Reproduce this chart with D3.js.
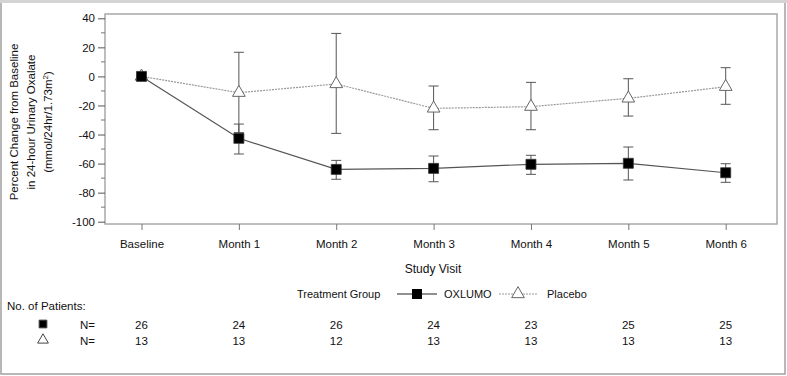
<!DOCTYPE html>
<html>
<head>
<meta charset="utf-8">
<script src="https://cdn.jsdelivr.net/npm/d3@7"></script>
<style>
  body { margin: 0; background: #fff; }
  svg text { font-family: "Liberation Sans", Arial, sans-serif; fill: #111; }
</style>
</head>
<body>
<div id="chart"></div>
<script>
// data
const visits = ["Baseline", "Month 1", "Month 2", "Month 3", "Month 4", "Month 5", "Month 6"];
const oxlumoMean = [0, -42.6, -64.0, -63.3, -60.5, -59.8, -66.3];
const oxlumoLow  = [0, -53.4, -70.8, -72.5, -67.4, -71.3, -72.9];
const oxlumoHigh = [0, -32.8, -57.8, -54.8, -54.3, -48.6, -60.1];
const placeboMean = [0, -11.2, -5.2, -22.0, -20.8, -15.1, -7.1];
const placeboLow  = [0, -38.7, -39.2, -36.7, -36.7, -27.3, -19.2];
const placeboHigh = [0, 16.6, 29.6, -6.6, -4.1, -1.6, 6.0];
const oxlumoN = [26, 24, 26, 24, 23, 25, 25];
const placeboN = [13, 13, 12, 13, 13, 13, 13];
const yTicks = [40, 20, 0, -20, -40, -60, -80, -100];

const width = 787, height = 376;
const plot = { left: 105, right: 777, top: 14, bottom: 224 };

const svg = d3.select("#chart").append("svg")
  .attr("width", width).attr("height", height);

// outer border
svg.append("rect").attr("x", 1).attr("y", 1).attr("width", width - 3).attr("height", height - 3)
  .attr("fill", "none").attr("stroke", "#a0a0a0").attr("stroke-width", 1.5);
svg.append("line").attr("x1", 0).attr("x2", width).attr("y1", 1.5).attr("y2", 1.5)
  .attr("stroke", "#d4d4d4").attr("stroke-width", 3);

const x = d3.scalePoint().domain(visits).range([141.5, 725.7]);
const y = d3.scaleLinear().domain([-100, 40]).range([221.7, 18.3]);

// plot frame
svg.append("rect")
  .attr("x", plot.left).attr("y", plot.top)
  .attr("width", plot.right - plot.left).attr("height", plot.bottom - plot.top)
  .attr("fill", "none").attr("stroke", "#a8a8a8").attr("stroke-width", 1.5);

// y axis (plain hyphen for negatives, like the original)
const yAxis = svg.append("g").attr("transform", `translate(${plot.left},0)`)
  .call(d3.axisLeft(y).tickValues(yTicks).tickSize(7).tickPadding(3).tickFormat(d => String(d)));
yAxis.select(".domain").remove();
yAxis.selectAll("line").attr("stroke", "#555");
yAxis.selectAll("text").style("font-size", "11.5px").attr("fill", "#111");
// minor ticks
svg.append("g").selectAll("line")
  .data(d3.range(-90, 40, 20))
  .join("line")
  .attr("x1", plot.left - 4).attr("x2", plot.left)
  .attr("y1", d => y(d)).attr("y2", d => y(d))
  .attr("stroke", "#777");

// x axis
const xAxis = svg.append("g").attr("transform", `translate(0,${plot.bottom})`)
  .call(d3.axisBottom(x).tickSize(6).tickPadding(10));
xAxis.select(".domain").remove();
xAxis.selectAll("line").attr("stroke", "#777");
xAxis.selectAll("text").style("font-size", "11.5px").attr("fill", "#111");

svg.append("text").attr("x", (plot.left + plot.right) / 2 - 8).attr("y", 273)
  .attr("text-anchor", "middle").style("font-size", "12px").text("Study Visit");

// y label
const yLab = svg.append("text").attr("transform", "translate(18,122) rotate(-90)")
  .attr("text-anchor", "middle").style("font-size", "11.5px");
yLab.append("tspan").attr("x", 0).attr("dy", 0).text("Percent Change from Baseline");
yLab.append("tspan").attr("x", 0).attr("dy", 17).text("in 24-hour Urinary Oxalate");
yLab.append("tspan").attr("x", 0).attr("dy", 17).text("(mmol/24hr/1.73m");
yLab.append("tspan").attr("dy", -4).style("font-size", "8px").text("2");
yLab.append("tspan").attr("dy", 4).text(")");

// error bars
function errorBars(means, lows, highs) {
  const g = svg.append("g").attr("stroke", "#555").attr("stroke-width", 1);
  visits.forEach((v, i) => {
    if (highs[i] === lows[i]) return;
    const cx = x(v);
    g.append("line").attr("x1", cx).attr("x2", cx).attr("y1", y(highs[i])).attr("y2", y(lows[i]));
    g.append("line").attr("x1", cx - 5).attr("x2", cx + 5).attr("y1", y(highs[i])).attr("y2", y(highs[i]));
    g.append("line").attr("x1", cx - 5).attr("x2", cx + 5).attr("y1", y(lows[i])).attr("y2", y(lows[i]));
  });
}
errorBars(placeboMean, placeboLow, placeboHigh);
errorBars(oxlumoMean, oxlumoLow, oxlumoHigh);

const line = d3.line().x((d, i) => x(visits[i])).y(d => y(d));

svg.append("path").datum(placeboMean).attr("d", line)
  .attr("fill", "none").attr("stroke", "#999").attr("stroke-width", 1.2).attr("stroke-dasharray", "2,1");
svg.append("path").datum(oxlumoMean).attr("d", line)
  .attr("fill", "none").attr("stroke", "#555").attr("stroke-width", 1.2);

const tri = d3.symbol().type(d3.symbolTriangle).size(70);
const sq = d3.symbol().type(d3.symbolSquare).size(100);

svg.append("g").selectAll("path").data(placeboMean).join("path")
  .attr("d", tri)
  .attr("transform", (d, i) => `translate(${x(visits[i])},${y(d)})`)
  .attr("fill", "#fff").attr("stroke", "#666").attr("stroke-width", 1);
svg.append("g").selectAll("path").data(oxlumoMean).join("path")
  .attr("d", sq)
  .attr("transform", (d, i) => `translate(${x(visits[i])},${y(d)})`)
  .attr("fill", "#000").attr("stroke", "#333").attr("stroke-width", 0.8);

// legend
const leg = svg.append("g").attr("transform", "translate(0,294)");
leg.append("text").attr("x", 297).attr("y", 4).style("font-size", "11px").text("Treatment Group");
leg.append("line").attr("x1", 397).attr("x2", 437).attr("y1", 0).attr("y2", 0).attr("stroke", "#222");
leg.append("path").attr("d", sq).attr("transform", "translate(417,0)").attr("fill", "#000");
leg.append("text").attr("x", 444).attr("y", 4).style("font-size", "11px").text("OXLUMO");
leg.append("line").attr("x1", 499).attr("x2", 537).attr("y1", 0).attr("y2", 0)
  .attr("stroke", "#999").attr("stroke-dasharray", "2,1");
leg.append("path").attr("d", tri).attr("transform", "translate(518,0)")
  .attr("fill", "#fff").attr("stroke", "#666");
leg.append("text").attr("x", 547).attr("y", 4).style("font-size", "11px").text("Placebo");

// patients table
svg.append("text").attr("x", 7).attr("y", 310).style("font-size", "11.5px").text("No. of Patients:");
const rows = [
  { n: oxlumoN, type: d3.symbolSquare, fill: "#000", yy: 325, size: 60 },
  { n: placeboN, type: d3.symbolTriangle, fill: "#fff", yy: 341, size: 50 }
];
rows.forEach(r => {
  svg.append("path").attr("d", d3.symbol().type(r.type).size(r.size))
    .attr("transform", `translate(43,${r.yy - 1})`)
    .attr("fill", r.fill).attr("stroke", "#444");
  svg.append("text").attr("x", 80).attr("y", r.yy + 4).style("font-size", "11.5px").text("N=");
  svg.append("g").selectAll("text").data(r.n).join("text")
    .attr("x", (d, i) => x(visits[i])).attr("y", r.yy + 4)
    .attr("text-anchor", "middle").style("font-size", "11.5px").text(d => d);
});
</script>
</body>
</html>
